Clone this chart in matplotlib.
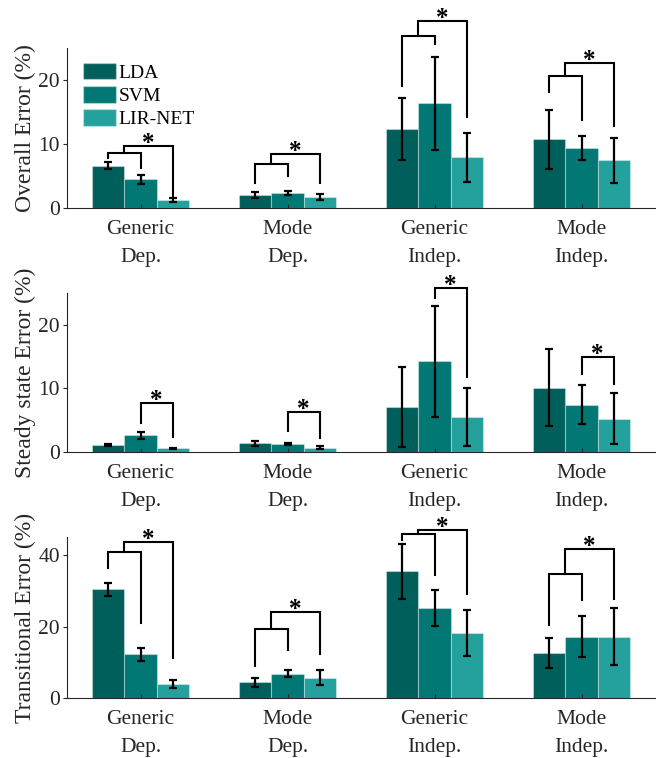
import numpy as np
import matplotlib.pyplot as plt
from matplotlib.patches import Patch

plt.rcParams['font.family'] = ['Liberation Serif', 'DejaVu Serif']

groups = ['Generic\nDep.', 'Mode\nDep.', 'Generic\nIndep.', 'Mode\nIndep.']
methods = ['LDA', 'SVM', 'LIR-NET']
colors = ['#005f5b', '#027874', '#24a09d']

# rows: LDA, SVM, LIR-NET ; columns: groups
overall_mean = [[6.55, 1.98, 12.3, 10.7], [4.45, 2.34, 16.3, 9.3], [1.25, 1.67, 7.9, 7.4]]
overall_sd = [[0.55, 0.45, 4.85, 4.6], [0.65, 0.25, 7.3, 1.9], [0.3, 0.5, 3.85, 3.45]]
steady_mean = [[1.1, 1.4, 7.05, 10.1], [2.6, 1.25, 14.25, 7.4], [0.6, 0.7, 5.5, 5.2]]
steady_sd = [[0.2, 0.4, 6.25, 6.05], [0.6, 0.15, 8.7, 3.05], [0.1, 0.2, 4.5, 4.0]]
trans_mean = [[30.4, 4.4, 35.5, 12.55], [12.2, 6.75, 25.2, 17.2], [3.85, 5.7, 18.2, 17.2]]
trans_sd = [[1.8, 1.2, 7.75, 4.2], [1.9, 1.0, 5.0, 5.65], [1.05, 2.0, 6.5, 8.05]]

# significance brackets
# nested: (group, inner height, outer height, leg ends LDA/SVM/LIR-NET)
overall_sig = [(0, 8.54, 9.69, [7.76, 6.2, 1.67]),
               (1, 6.875, 8.44, [3.85, 5.0, 3.85]),
               (2, 26.8, 29.2, [18.96, 25.5, 14.17]),
               (3, 20.5, 22.6, [18.0, 13.75, 12.7])]
# pair SVM vs LIR-NET: (group, height, leg ends SVM/LIR-NET)
steady_sig = [(0, 7.68, [4.5, 2.35]),
              (1, 6.27, [3.24, 2.19]),
              (2, 25.8, [24.1, 11.7]),
              (3, 14.88, [12.27, 10.7])]
trans_sig = [(0, 40.75, 43.8, [36.35, 21.1, 11.3]),
             (1, 19.2, 24.1, [9.0, 13.4, 12.3]),
             (2, 45.9, 47.1, [44.1, 34.5, 29.2]),
             (3, 34.85, 41.6, [20.4, 27.3, 27.7])]

W = 0.22
x = np.arange(1, 5)
axc = '#262626'


def star(ax, xs, y):
    ax.annotate('*', (xs, y), xytext=(0, -4), textcoords='offset pixels',
                ha='center', va='baseline', fontsize=18, fontweight='bold',
                annotation_clip=False)


def nested(ax, g, h1, h2, legs):
    xl, xs, xr = g - W, g, g + W
    kw = dict(color='black', lw=1.5, clip_on=False, solid_joinstyle='miter')
    ax.plot([xl, xl, xs, xs], [legs[0], h1, h1, legs[1]], **kw)
    xm = g - W / 2
    ax.plot([xm, xm, xr, xr], [h1, h2, h2, legs[2]], **kw)
    star(ax, (xm + xr) / 2, h2)


def pair(ax, g, h, legs):
    xs, xr = g, g + W
    ax.plot([xs, xs, xr, xr], [legs[0], h, h, legs[1]], color='black', lw=1.5,
            clip_on=False, solid_joinstyle='miter')
    star(ax, (xs + xr) / 2, h)


def panel(ax, mean, sd, ylabel, ymax, yticks):
    for i in range(3):
        xi = x + (i - 1) * W
        ax.bar(xi, mean[i], W, color=colors[i], edgecolor=(1, 1, 1, 0.35), linewidth=0.8)
        ax.errorbar(xi, mean[i], yerr=sd[i], fmt='none', ecolor='black',
                    elinewidth=1.6, capsize=3, capthick=1.6)
    ax.set_xlim(0.5, 4.5)
    ax.set_ylim(0, ymax)
    ax.set_yticks(yticks)
    ax.set_xticks(x)
    ax.set_xticklabels(groups, linespacing=1.62)
    for s in ['top', 'right']:
        ax.spines[s].set_visible(False)
    for s in ['left', 'bottom']:
        ax.spines[s].set_color(axc)
        ax.spines[s].set_linewidth(0.8)
    ax.tick_params(axis='y', direction='out', length=3, width=0.8, color=axc,
                   labelcolor=axc, labelsize=15.5, pad=2)
    ax.tick_params(axis='x', direction='in', length=3, width=0.8, color=axc,
                   labelcolor=axc, labelsize=15.5, pad=9)
    ax.set_ylabel(ylabel, fontsize=17, color=axc)
    ax.yaxis.set_label_coords(-0.053, 0.5)


fig = plt.figure(figsize=(6.61, 7.58), dpi=100)
left, width = 0.1014, 0.8896
ax1 = fig.add_axes([left, 0.7256, width, 0.2117])
ax2 = fig.add_axes([left, 0.4037, width, 0.2102])
ax3 = fig.add_axes([left, 0.0792, width, 0.2120])

panel(ax1, overall_mean, overall_sd, 'Overall Error (%)', 25, [0, 10, 20])
panel(ax2, steady_mean, steady_sd, 'Steady state Error (%)', 25, [0, 10, 20])
panel(ax3, trans_mean, trans_sd, 'Transitional Error (%)', 45, [0, 20, 40])

for g, h1, h2, legs in overall_sig:
    nested(ax1, x[g], h1, h2, legs)
for g, h, legs in steady_sig:
    pair(ax2, x[g], h, legs)
for g, h1, h2, legs in trans_sig:
    nested(ax3, x[g], h1, h2, legs)

handles = [Patch(facecolor=c, edgecolor=(1, 1, 1, 0.35)) for c in colors]
ax1.legend(handles, methods, loc='upper left', bbox_to_anchor=(0.0267, 0.906),
           frameon=False, fontsize=14, handlelength=1.7, handleheight=0.93,
           labelspacing=0.23, handletextpad=0.15, borderpad=0, borderaxespad=0)

fig.savefig('out.png', dpi=100)
